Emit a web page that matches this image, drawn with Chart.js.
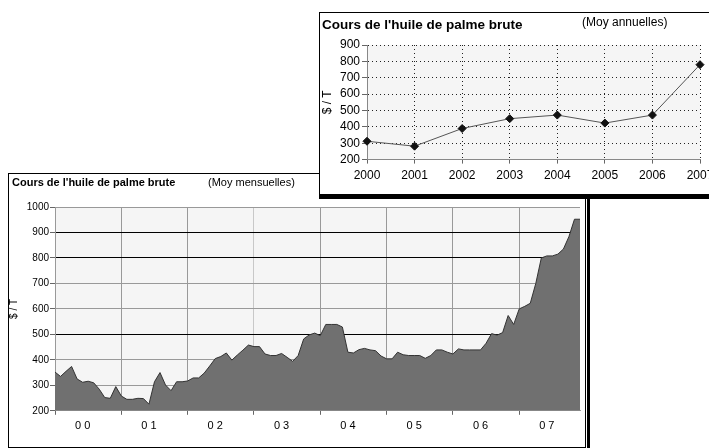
<!DOCTYPE html>
<html>
<head>
<meta charset="utf-8">
<script src="https://cdn.jsdelivr.net/npm/chart.js@4/dist/chart.umd.min.js"></script>
<style>
html, body { margin: 0; padding: 0; background: #fff; overflow: hidden; width: 709px; height: 448px; }
body { position: relative; font-family: "Liberation Sans", Arial, sans-serif; }
.box { position: absolute; background: #fff; box-sizing: border-box; }
#bigBox { left: 8px; top: 173px; width: 578px; height: 275px; border: 1px solid #000; box-shadow: 1px 1px 0 #fff, 4px 4px 0 #000; z-index: 1; }
#smallBox { left: 319px; top: 12px; width: 420px; height: 187px; border: 1px solid #000; border-bottom-width: 5px; z-index: 3; }
canvas { position: absolute; }
#bigChart { left: 8px; top: 173px; z-index: 2; }
#smallChart { left: 320px; top: 13px; z-index: 4; }
.ttl { position: absolute; white-space: nowrap; color: #000; }
.b { font-weight: bold; }
</style>
</head>
<body>
<div class="box" id="bigBox"></div>
<canvas id="bigChart" width="577" height="274"></canvas>
<div class="ttl b" style="left:12px;top:176px;font-size:11px;z-index:2">Cours de l'huile de palme brute</div>
<div class="ttl" style="left:208px;top:176px;font-size:11px;z-index:2">(Moy mensuelles)</div>

<div class="box" id="smallBox"></div>
<canvas id="smallChart" width="400" height="180"></canvas>
<div class="ttl b" style="left:322px;top:17px;font-size:13.5px;z-index:5">Cours de l'huile de palme brute</div>
<div class="ttl" style="left:582px;top:15px;font-size:12px;z-index:5">(Moy annuelles)</div>

<script>
// monthly averages, Jan 2000 .. Dec 2007 ($/T)
const monthlyPrices = [
  352, 335, 355, 374, 325, 312, 316, 310, 285, 252, 249, 295,
  258, 245, 245, 249, 248, 226, 314, 350, 301, 279, 314, 314,
  317, 329, 329, 348, 376, 405, 413, 427, 399, 419, 438, 458,
  452, 452, 423, 417, 417, 425, 410, 394, 417, 482, 498, 505,
  495, 539, 539, 539, 529, 430, 427, 440, 445, 439, 436, 415,
  404, 404, 430, 420, 417, 417, 417, 406, 417, 439, 439, 430,
  423, 443, 439, 439, 439, 439, 465, 503, 497, 507, 574, 539,
  600, 610, 622, 700, 800, 808, 808, 815, 835, 884, 952, 952
]
const yearTicks = ['0 0', '0 1', '0 2', '0 3', '0 4', '0 5', '0 6', '0 7']

// annual averages
const years = ['2000', '2001', '2002', '2003', '2004', '2005', '2006', '2007']
const annualPrices = [312, 282, 390, 450, 472, 423, 472, 780]

const fontFamily = '"Liberation Sans", Arial, sans-serif'
Chart.defaults.font.family = fontFamily
Chart.defaults.color = '#000'

const plotBg = {
  id: 'plotBg',
  beforeDraw(chart, args, opts) {
    const { ctx, chartArea: a } = chart
    ctx.save()
    ctx.fillStyle = opts.color
    ctx.fillRect(a.left, a.top, a.right - a.left, a.bottom - a.top)
    ctx.restore()
  },
}

var monthLabels = monthlyPrices.map(function (v, i) {
  return i % 12 === 5 ? yearTicks[Math.floor(i / 12)] : ''
})

// black lines at 900, 800, 500 like the scan
var darkLines = [900, 800, 500]

var plainNumber = function (v) { return String(v) }

var bigChart = new Chart(document.getElementById('bigChart').getContext('2d'), {
  type: 'line',
  data: {
    labels: monthLabels,
    datasets: [
      {
        data: monthlyPrices,
        borderColor: '#333',
        borderWidth: 1,
        backgroundColor: '#707070',
        fill: 'start',
        pointRadius: 0,
        tension: 0,
      },
    ],
  },
  options: {
    responsive: false,
    animation: false,
    devicePixelRatio: 1,
    layout: { padding: { top: 34, right: 3, left: 0, bottom: 9 } },
    plugins: { legend: { display: false }, tooltip: { enabled: false }, plotBg: { color: '#f5f5f5' } },
    scales: {
      x: {
        offset: false,
        grid: {
          color: function (ctx) {
            if (ctx.index % 12 !== 0) return 'transparent'
            return ctx.index === 36 ? '#c8c8c8' : '#999'
          },
          tickColor: function (ctx) {
            return ctx.index % 12 === 0 ? '#666' : 'transparent'
          },
          tickLength: 4,
        },
        border: { color: '#999' },
        ticks: { autoSkip: false, maxRotation: 0, padding: 5, font: { size: 11 }, color: '#000' },
      },
      y: {
        min: 200,
        max: 1000,
        ticks: { stepSize: 100, autoSkip: false, padding: 1, font: { size: 10 }, color: '#000', callback: plainNumber },
        grid: {
          color: function (ctx) {
            return darkLines.indexOf(ctx.tick.value) >= 0 ? '#000' : '#999'
          },
          tickColor: '#666',
          tickLength: 5,
        },
        border: { color: '#999' },
        title: { display: true, text: '$ / T', font: { size: 10 }, padding: 0 },
        afterFit: function (s) { s.width = 47 },
      },
    },
  },
  plugins: [plotBg],
})

var smallChart = new Chart(document.getElementById('smallChart').getContext('2d'), {
  type: 'line',
  data: {
    labels: years,
    datasets: [
      {
        data: annualPrices,
        borderColor: '#555',
        borderWidth: 1,
        pointStyle: 'rectRot',
        pointRadius: 4,
        pointBackgroundColor: '#111',
        pointBorderColor: '#111',
        tension: 0,
      },
    ],
  },
  options: {
    responsive: false,
    animation: false,
    devicePixelRatio: 1,
    layout: { padding: { top: 32, right: 20, left: 0, bottom: 5 } },
    plugins: { legend: { display: false }, tooltip: { enabled: false }, plotBg: { color: '#f5f5f5' } },
    scales: {
      x: {
        offset: false,
        grid: { color: '#222', tickColor: '#666', tickLength: 4 },
        border: { color: '#888', dash: [1, 3] },
        ticks: { padding: 5, font: { size: 12 }, color: '#000' },
      },
      y: {
        min: 200,
        max: 900,
        ticks: { stepSize: 100, autoSkip: false, padding: 2, font: { size: 12 }, color: '#000', callback: plainNumber },
        grid: { color: '#222', tickColor: '#666', tickLength: 5 },
        border: { color: '#888', dash: [1, 3] },
        title: { display: true, text: '$ / T', font: { size: 12 }, padding: 0 },
        afterFit: function (s) { s.width = 47 },
      },
    },
  },
  plugins: [plotBg],
})
</script>
</body>
</html>
